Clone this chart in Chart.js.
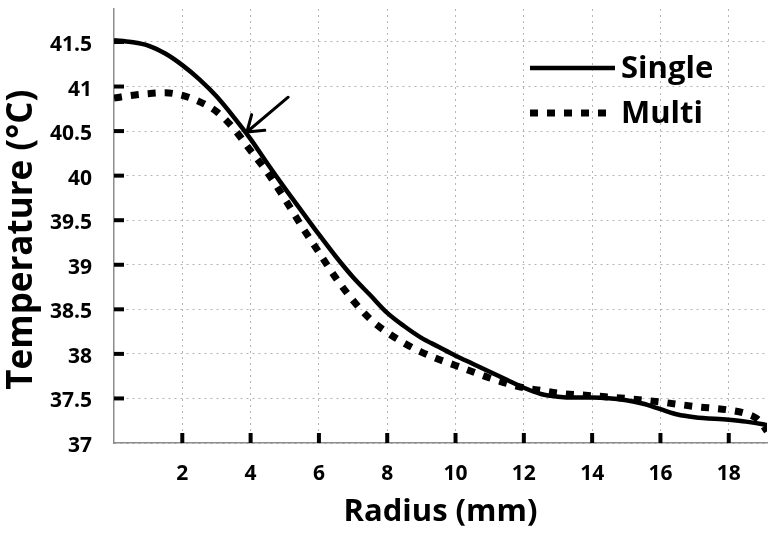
<!DOCTYPE html>
<html>
<head>
<meta charset="utf-8">
<script src="https://cdn.jsdelivr.net/npm/chart.js@4/dist/chart.umd.min.js"></script>
<style>
  body { margin:0; background:#fff; }
  #wrap { width:780px; height:536px; position:relative; }
</style>
</head>
<body>
<div id="wrap"><canvas id="chart"></canvas></div>
<script>
// values
const singleRadius = [0,0.5,1,1.5,2,2.5,3,3.5,4,4.5,5,5.5,6,6.5,7,7.5,8,8.5,9,9.5,10,10.5,11,11.5,12,12.5,13,13.5,14,15,15.5,16,16.5,17,18,18.5,19,19.12];
const singleTemp   = [41.52,41.50,41.46,41.37,41.24,41.08,40.89,40.66,40.41,40.13,39.86,39.60,39.34,39.09,38.86,38.66,38.46,38.31,38.18,38.08,37.98,37.89,37.80,37.71,37.62,37.55,37.52,37.51,37.51,37.48,37.44,37.38,37.32,37.29,37.26,37.24,37.21,37.20];
const multiRadius  = [0,0.5,1,1.5,2,2.5,3,3.5,4,4.5,5,5.5,6,6.5,7,7.5,8,8.5,9,9.5,10,10.5,11,11.5,12,12.5,13,14,15,16,17,18,18.5,18.8,19,19.12];
const multiTemp    = [40.87,40.90,40.92,40.93,40.90,40.83,40.72,40.53,40.28,40.03,39.74,39.43,39.14,38.85,38.60,38.39,38.24,38.12,38.02,37.94,37.87,37.80,37.73,37.67,37.62,37.59,37.56,37.53,37.50,37.46,37.41,37.37,37.33,37.28,37.20,37.13];
const xTicks = [2,4,6,8,10,12,14,16,18];
const yTicks = [37,37.5,38,38.5,39,39.5,40,40.5,41,41.5];
const seriesNames = ['Single','Multi'];
// arrow annotation, in data units (radius, temperature)
const arrowFrom = [5.1, 40.88];
const arrowTo = [3.89, 40.49];

const FONT = '"Open Sans", "DejaVu Sans", sans-serif';

function pts(xs, ys){ return xs.map((x,i) => ({x:x, y:ys[i]})); }

// short thick tick marks drawn inside the plot area
const innerTicks = {
  id:'innerTicks',
  afterDatasetsDraw(chart){
    const ctx = chart.ctx, xs = chart.scales.x, ys = chart.scales.y, a = chart.chartArea;
    ctx.save();
    ctx.setLineDash([]);
    ctx.strokeStyle = '#000'; ctx.lineWidth = 4; ctx.lineCap = 'butt';
    xTicks.forEach(v => { const px = xs.getPixelForValue(v); ctx.beginPath(); ctx.moveTo(px, a.bottom); ctx.lineTo(px, a.bottom-10); ctx.stroke(); });
    yTicks.slice(1).forEach(v => { const py = ys.getPixelForValue(v); ctx.beginPath(); ctx.moveTo(a.left, py); ctx.lineTo(a.left+10, py); ctx.stroke(); });
    ctx.restore();
  }
};

const arrowPlugin = {
  id:'arrow',
  afterDatasetsDraw(chart){
    const ctx = chart.ctx, xs = chart.scales.x, ys = chart.scales.y;
    const x1 = xs.getPixelForValue(arrowFrom[0]), y1 = ys.getPixelForValue(arrowFrom[1]);
    const x2 = xs.getPixelForValue(arrowTo[0]), y2 = ys.getPixelForValue(arrowTo[1]);
    const ang = Math.atan2(y2-y1, x2-x1), len = 18;
    ctx.save();
    ctx.setLineDash([]);
    ctx.strokeStyle = '#000'; ctx.lineWidth = 3; ctx.lineCap = 'round'; ctx.lineJoin = 'round';
    ctx.beginPath(); ctx.moveTo(x1,y1); ctx.lineTo(x2,y2);
    ctx.moveTo(x2 - len*Math.cos(ang-0.6), y2 - len*Math.sin(ang-0.6)); ctx.lineTo(x2,y2);
    ctx.lineTo(x2 - len*Math.cos(ang+0.6), y2 - len*Math.sin(ang+0.6));
    ctx.stroke();
    ctx.restore();
  }
};

// legend drawn inside the plot, top right
const insideLegend = {
  id:'insideLegend',
  afterDraw(chart){
    const ctx = chart.ctx;
    ctx.save();
    ctx.font = 'bold 31px ' + FONT;
    ctx.textBaseline = 'middle';
    ctx.fillStyle = '#000';
    chart.data.datasets.forEach((ds, i) => {
      const y = 68 + i*45;
      ctx.strokeStyle = ds.borderColor; ctx.lineWidth = ds.borderWidth;
      ctx.lineCap = 'butt';
      ctx.setLineDash(ds.borderDash || []);
      ctx.beginPath(); ctx.moveTo(530, y); ctx.lineTo(615, y); ctx.stroke();
      ctx.setLineDash([]);
      ctx.fillText(ds.label, 621, y + 1);
    });
    ctx.restore();
  }
};

const chart = new Chart(document.getElementById('chart'), {
  type:'line',
  data:{ datasets:[
    { label:seriesNames[0], data:pts(singleRadius, singleTemp), borderColor:'#000', borderWidth:4.5, pointRadius:0, cubicInterpolationMode:'monotone', fill:false, order:2 },
    { label:seriesNames[1], data:pts(multiRadius, multiTemp), borderColor:'#000', borderWidth:7, borderDash:[8,9], borderCapStyle:'butt', pointRadius:0, cubicInterpolationMode:'monotone', fill:false, order:1 }
  ]},
  options:{
    responsive:true, maintainAspectRatio:false, animation:false,
    layout:{ padding:{ top:9, right:13, left:0, bottom:0 } },
    plugins:{ legend:{display:false}, tooltip:{enabled:false} },
    scales:{
      x:{
        type:'linear', min:0, max:19.12,
        afterBuildTicks: s => { s.ticks = xTicks.map(v => ({value:v})); },
        afterFit: s => { s.height = 93; s.paddingLeft = 0; s.paddingRight = 0; },
        grid:{ color:'#b4b4b4', lineWidth:1, drawTicks:false },
        border:{ color:'#8c8c8c', width:1.5, dash:[2,4] },
        ticks:{ color:'#000', padding:18, maxRotation:0, font:{ family:FONT, size:21, weight:'bold' }, callback: v => String(v) },
        title:{ display:true, text:'Radius (mm)', color:'#000', font:{ family:FONT, size:31, weight:'bold' }, padding:{ top:0, bottom:5 } }
      },
      y:{
        type:'linear', min:37, max:41.87,
        afterBuildTicks: s => { s.ticks = yTicks.map(v => ({value:v})); },
        afterFit: s => { s.width = 114; s.paddingTop = 0; s.paddingBottom = 0; },
        grid:{ color:'#b4b4b4', lineWidth:1, drawTicks:false },
        border:{ color:'#8c8c8c', width:1.5, dash:[2,4] },
        ticks:{ color:'#000', padding:22, labelOffset:3, font:{ family:FONT, size:21, weight:'bold' }, callback: v => String(v) },
        title:{ display:true, text:'Temperature (°C)   ', color:'#000', font:{ family:FONT, size:35, weight:'bold' }, padding:{ top:1, bottom:0 } }
      }
    }
  },
  plugins:[innerTicks, arrowPlugin, insideLegend]
});
</script>
</body>
</html>
